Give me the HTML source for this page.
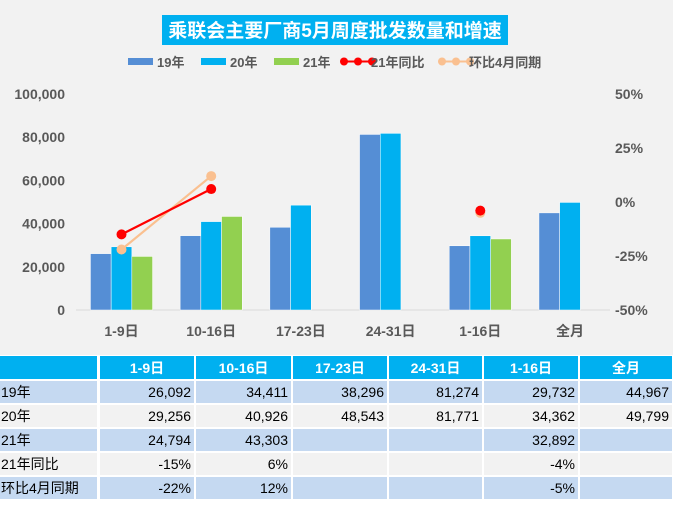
<!DOCTYPE html>
<html><head><meta charset="utf-8"><style>
body{margin:0;width:673px;height:500px;overflow:hidden;background:#fff;font-family:"Liberation Sans","Noto Sans CJK SC",sans-serif;}
svg text{font-family:"Liberation Sans","Noto Sans CJK SC",sans-serif;}
</style></head><body>
<svg id="chart" width="673" height="500" xmlns="http://www.w3.org/2000/svg">
<rect x="0" y="0" width="673" height="355" fill="#f2f2f2"/>
<rect x="162" y="15" width="346" height="30" fill="#00b0f0"/>
<text x="335" y="37" text-anchor="middle" fill="#fff" font-size="19" font-weight="bold">乘联会主要厂商5月周度批发数量和增速</text>
<g id="legend"></g>
<g id="axes"></g><g id="bars"></g><g id="lines"></g><g id="table"></g>
</svg>
<script>
const categories=["1-9日","10-16日","17-23日","24-31日","1-16日","全月"];
const s19=[26092,34411,38296,81274,29732,44967];
const s20=[29256,40926,48543,81771,34362,49799];
const s21=[24794,43303,null,null,32892,null];
const yoy21=[-15,6,null,null,-4,null];
const mom4=[-22,12,null,null,-5,null];
const leftTicks=[0,20000,40000,60000,80000,100000];
const rightTicks=[-50,-25,0,25,50];
const NS="http://www.w3.org/2000/svg";
function mk(p,tag,a,txt){const e=document.createElementNS(NS,tag);for(const k in a)e.setAttribute(k,a[k]);if(txt!=null)e.textContent=txt;p.appendChild(e);return e;}
const y0=310,yTop=94;
const yL=v=>y0-(v/100000)*(y0-yTop);
const yR=p=>(y0+yTop)/2-(p/50)*((y0-yTop)/2);
const gx=i=>121.5+i*89.7;
const bw=20.7;
const fmt=v=>v.toLocaleString('en-US');
const axes=document.getElementById('axes');
leftTicks.forEach(t=>{const e=mk(axes,'text',{x:65,y:yL(t)+5,'text-anchor':'end','font-size':14,'font-weight':'bold',fill:'#595959'},fmt(t));

});
rightTicks.forEach(t=>{const e=mk(axes,'text',{x:615,y:yR(t)+5,'font-size':14,'font-weight':'bold',fill:'#595959'},t+'%');

});
const base=mk(axes,'line',{x1:76,x2:610,y1:y0,y2:y0,stroke:'#d9d9d9','stroke-width':1});


categories.forEach((c,i)=>{const e=mk(axes,'text',{x:gx(i),y:336,'text-anchor':'middle','font-size':14,'font-weight':'bold',fill:'#595959'},c);

});
const bars=document.getElementById('bars');
const series=[[s19,'#558ed5','bar-19'],[s20,'#00b0f0','bar-20'],[s21,'#92d050','bar-21']];
series.forEach(([arr,col,nm],si)=>{arr.forEach((v,i)=>{if(v==null)return;const x=gx(i)-1.5*bw+si*bw;
const r=mk(bars,'rect',{x:x,y:yL(v),width:bw,height:y0-yL(v),fill:col,stroke:'#fff','stroke-width':0.5});

});});
const lines=document.getElementById('lines');
[[mom4,'#fac090','line-mom-april',5],[yoy21,'#ff0000','line-yoy-21',5]].forEach(([arr,col,nm,rad])=>{
let seg=[];const segs=[];arr.forEach((v,i)=>{if(v==null){if(seg.length)segs.push(seg);seg=[];}else seg.push([gx(i),yR(v)]);});if(seg.length)segs.push(seg);
segs.forEach(s=>{if(s.length>1){const p=mk(lines,'polyline',{points:s.map(q=>q.join(',')).join(' '),fill:'none',stroke:col,'stroke-width':2.2});

}});
arr.forEach((v,i)=>{if(v==null)return;const c=mk(lines,'circle',{cx:gx(i),cy:yR(v),r:rad,fill:col});

});});
const lg=document.getElementById('legend');
const legItems=[['rect','#558ed5','19年',128],['rect','#00b0f0','20年',201],['rect','#92d050','21年',274],['line','#ff0000','21年同比',344],['line','#fac090','环比4月同期',442]];
legItems.forEach(([t,col,lab,x])=>{const g=mk(lg,'g',{});


if(t=='rect')mk(g,'rect',{x:x,y:58,width:25,height:7,fill:col});
else{mk(g,'line',{x1:x,x2:x+28,y1:61.5,y2:61.5,stroke:col,'stroke-width':2});[0,14,28].forEach(d=>mk(g,'circle',{cx:x+d,cy:61.5,r:4,fill:col}));}
mk(g,'text',{x:x+(t=='rect'?29:30)-(t=='line'?3:0),y:67,'font-size':13,'font-weight':'bold',fill:'#595959'},lab);});
// table
const tb=document.getElementById('table');
const colX=[0,99,195,292,388,483,579,673];
const rows=[['19年',s19.map(v=>v==null?'':fmt(v))],['20年',s20.map(v=>v==null?'':fmt(v))],['21年',s21.map(v=>v==null?'':fmt(v))],['21年同比',yoy21.map(v=>v==null?'':v+'%')],['环比4月同期',mom4.map(v=>v==null?'':v+'%')]];
const rowY=[381,405,429,453,477];
for(let c=0;c<7;c++){const r=mk(tb,'rect',{x:colX[c]+(c?1:0),y:356,width:colX[c+1]-colX[c]-2,height:23,fill:'#00b0f0'});


if(c>0){const t=mk(tb,'text',{x:(colX[c]+colX[c+1])/2,y:373,'text-anchor':'middle','font-size':14,'font-weight':'bold',fill:'#fff'},categories[c-1]);

}}
rows.forEach(([lab,vals],ri)=>{const bg=ri%2==0?'#c5d9f1':'#f2f2f2';const y=rowY[ri];
for(let c=0;c<7;c++){const r=mk(tb,'rect',{x:colX[c]+(c?1:0),y:y,width:colX[c+1]-colX[c]-2,height:22,fill:bg});

}
const l=mk(tb,'text',{x:1,y:y+16,'font-size':14,fill:'#000'},lab);


vals.forEach((v,i)=>{const t=mk(tb,'text',{x:colX[i+2]-4,y:y+16,'text-anchor':'end','font-size':14,fill:'#000'},v);

});});
</script>
</body></html>
